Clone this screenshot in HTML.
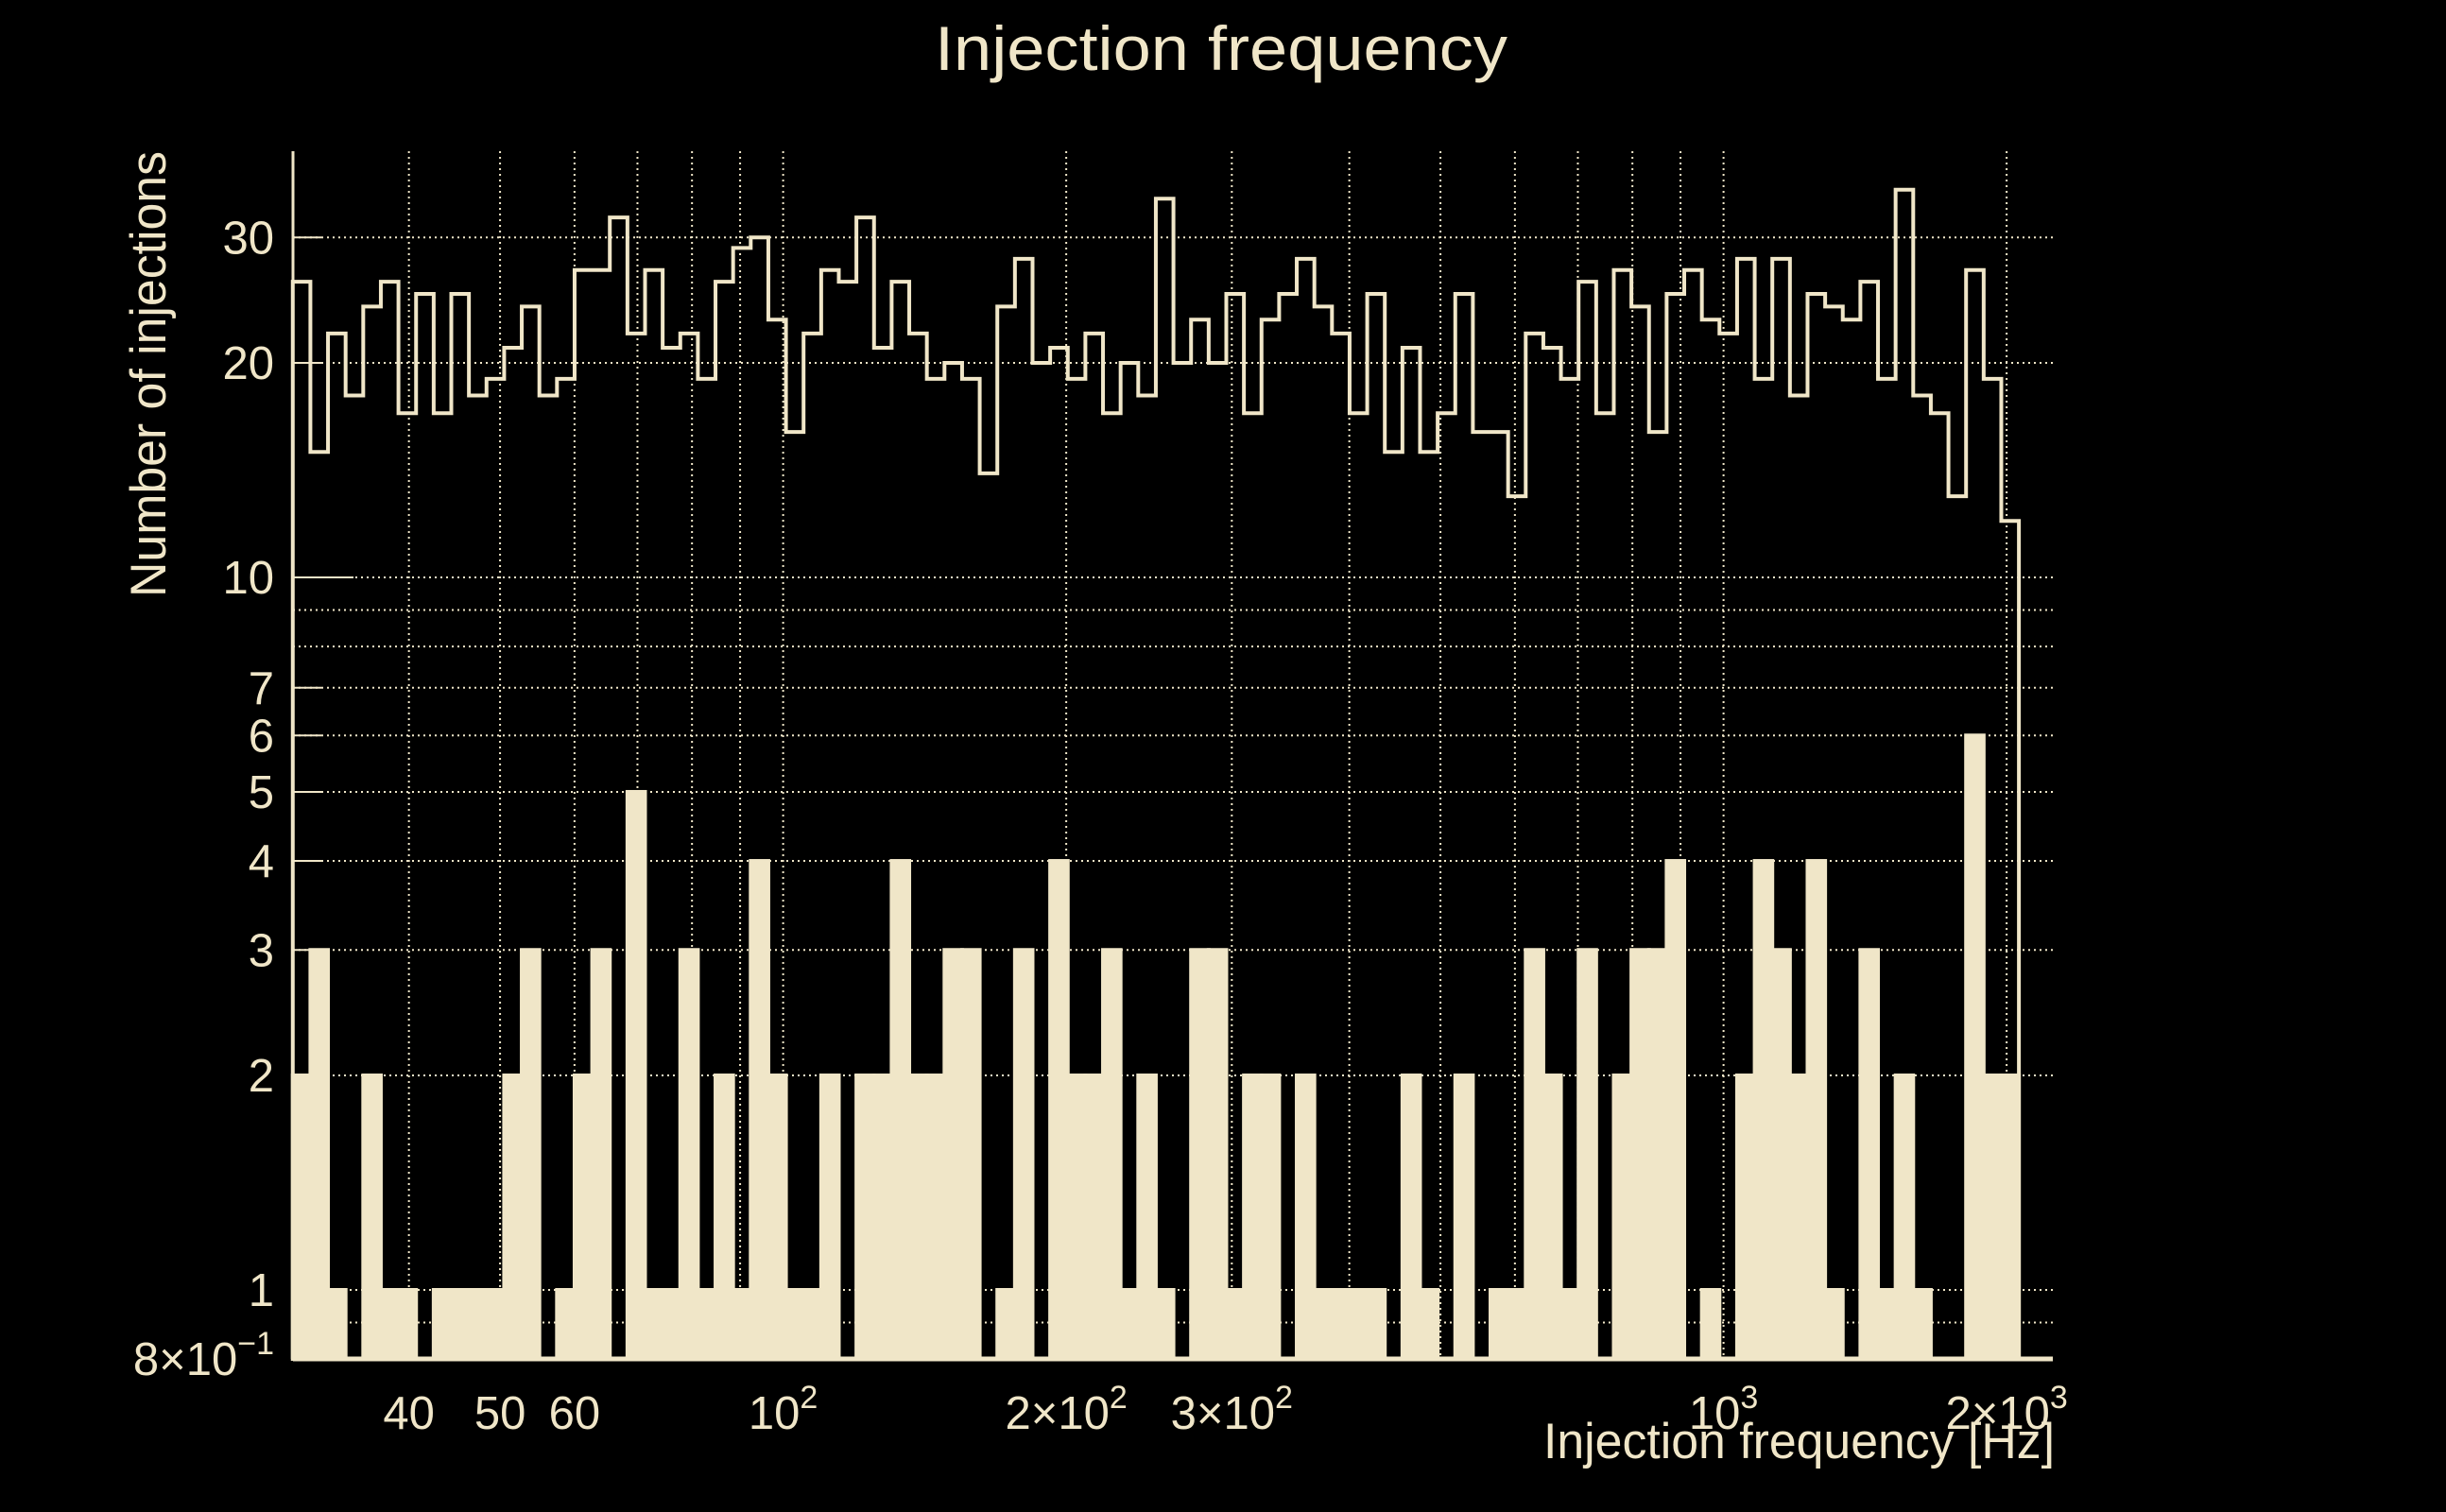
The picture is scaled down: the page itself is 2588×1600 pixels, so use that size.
<!DOCTYPE html>
<html><head><meta charset="utf-8"><style>
html,body{margin:0;padding:0;background:#000;}
svg{display:block;}
text{font-family:"Liberation Sans",sans-serif;fill:#f0e6c8;}
</style></head><body>
<svg id="chart" width="2588" height="1600" viewBox="0 0 2588 1600" xmlns="http://www.w3.org/2000/svg">
<rect x="0" y="0" width="2588" height="1600" fill="#000"/>
<g id="grid"></g>
<g id="bars"></g>
<g id="steps"></g>
<g id="axes"></g>
<g id="labels"></g>
<text x="1292" y="74" font-size="66" text-anchor="middle" textLength="606" lengthAdjust="spacingAndGlyphs">Injection frequency</text>
<text x="2174" y="1543" font-size="53" text-anchor="end" textLength="541" lengthAdjust="spacingAndGlyphs">Injection frequency [Hz]</text>
<text transform="translate(175,632) rotate(-90)" x="0" y="0" font-size="53" textLength="472" lengthAdjust="spacingAndGlyphs">Number of injections</text>
</svg>
<script>
const binLo = 30.1;
const binHi = 2061;
const topCounts = [26,15,22,18,24,26,17,25,17,25,18,19,21,24,18,19,27,27,32,22,27,21,22,19,26,29,30,23,16,22,27,26,32,21,
26,22,19,20,19,14,24,28,20,21,19,22,17,20,18,34,20,23,20,25,17,23,25,28,24,22,17,25,15,21,15,17,25,
16,16,13,22,21,19,26,17,27,24,16,25,27,23,22,28,19,28,18,25,24,23,26,19,35,18,17,13,27,19,12];
const barCounts = [2,3,1,0,2,1,1,0,1,1,1,1,2,3,0,1,2,3,0,5,1,1,3,1,2,1,4,2,1,1,2,0,2,2,
4,2,2,3,3,0,1,3,0,4,2,2,3,1,2,1,0,3,3,1,2,2,0,2,1,1,1,1,0,2,1,0,2,
0,1,1,3,2,1,3,0,2,3,3,4,0,1,0,2,4,3,2,4,1,0,3,1,2,1,0,0,6,2,2];
const yTicks = [0.8,1,2,3,4,5,6,7,10,20,30];
const yTickMain = ["8×10","1","2","3","4","5","6","7","10","20","30"];
const yTickSup = ["−1","","","","","","","","","",""];
const yGrid = [0.9,1,2,3,4,5,6,7,8,9,10,20,30];
const xGrid = [40,50,60,70,80,90,100,200,300,400,500,600,700,800,900,1000,2000];
const xTicks = [40,50,60,100,200,300,1000,2000];
const xTickMain = ["40","50","60","10","2×10","3×10","10","2×10"];
const xTickSup = ["","","","2","2","2","3","3"];

const NS="http://www.w3.org/2000/svg";
const C="#f0e6c8";
const PL=310, PR=2172, PB=1438, PT=160;
function X(f){return 828.6+(Math.log10(f)-2)*995;}
function Y(v){return 1365-Math.log10(v)*754;}
function mk(tag,attrs,parent){const e=document.createElementNS(NS,tag);for(const k in attrs)e.setAttribute(k,attrs[k]);parent.appendChild(e);return e;}
const grid=document.getElementById('grid'),bars=document.getElementById('bars'),steps=document.getElementById('steps'),axes=document.getElementById('axes'),labels=document.getElementById('labels');

yGrid.forEach(v=>{
  const l=mk('line',{x1:PL,x2:PR,y1:Y(v),y2:Y(v),stroke:C,'stroke-width':2,'stroke-dasharray':'2,4'},grid);
  
  
});
xGrid.forEach(f=>{
  const l=mk('line',{x1:X(f),x2:X(f),y1:PT,y2:PB,stroke:C,'stroke-width':2,'stroke-dasharray':'2,4'},grid);
  
  
});

const n=topCounts.length;
const lLo=Math.log10(binLo), lHi=Math.log10(binHi);
function edge(k){return X(Math.pow(10,lLo+(lHi-lLo)*k/n));}

barCounts.forEach((c,i)=>{
  if(c<=0)return;
  const x0=edge(i),x1=edge(i+1),y=Y(c);
  const r=mk('rect',{x:x0,y:y,width:x1-x0,height:PB-y,fill:C,stroke:C,'stroke-width':4},bars);
  
  
});

let d='M'+edge(0)+','+PB;
topCounts.forEach((c,i)=>{d+=' V'+Y(c)+' H'+edge(i+1);});
d+=' V'+PB;
const p=mk('path',{d:d,fill:'none',stroke:C,'stroke-width':4,'stroke-linejoin':'miter'},steps);



const ax=mk('line',{x1:PL,x2:PL,y1:PT,y2:PB,stroke:C,'stroke-width':3},axes);


const bx=mk('line',{x1:PL,x2:PR,y1:PB,y2:PB,stroke:C,'stroke-width':5},axes);


yTicks.forEach(v=>{
  const t=mk('line',{x1:PL,x2:PL+(v===10?64:30),y1:Y(v),y2:Y(v),stroke:C,'stroke-width':2},axes);
  
  
});

yTicks.forEach((v,i)=>{
  const t=mk('text',{x:290,y:Y(v)+17,'font-size':49,'text-anchor':'end'},labels);
  t.textContent=yTickMain[i];
  if(yTickSup[i]){
    const s=document.createElementNS(NS,'tspan');
    s.setAttribute('dy','-22');s.setAttribute('font-size','34');
    s.textContent=yTickSup[i];
    t.appendChild(s);
  }
  
  
});
xTicks.forEach((f,i)=>{
  const t=mk('text',{x:X(f),y:1512,'font-size':49,'text-anchor':'middle'},labels);
  t.textContent=xTickMain[i];
  if(xTickSup[i]){
    const s=document.createElementNS(NS,'tspan');
    s.setAttribute('dy','-22');s.setAttribute('font-size','34');
    s.textContent=xTickSup[i];
    t.appendChild(s);
  }
  
  
});
</script>
</body></html>
